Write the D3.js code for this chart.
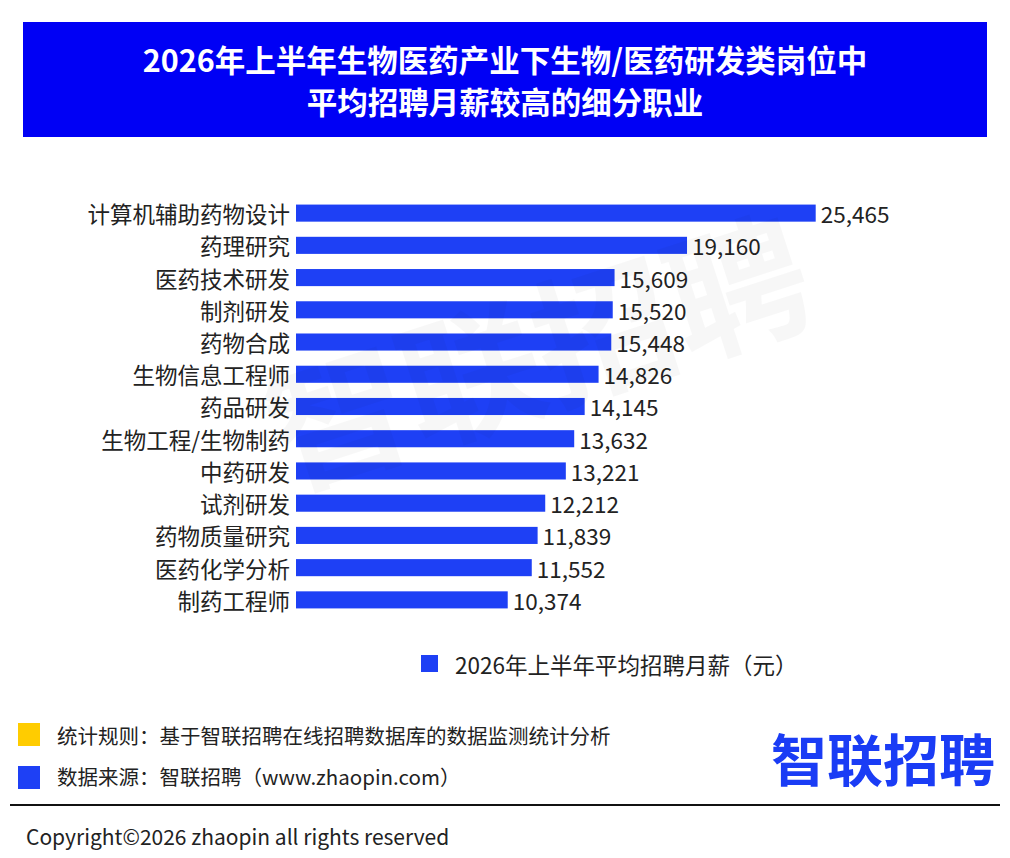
<!DOCTYPE html>
<html>
<head>
<meta charset="utf-8">
<script src="https://cdn.jsdelivr.net/npm/d3@7"></script>
<style>
  body { margin: 0; background: #fff; }
  svg { display: block; font-family: "Noto Sans CJK SC", "Noto Sans", sans-serif; }
</style>
</head>
<body>
<svg id="chart" width="1010" height="858"></svg>
<script>
const titleLines = ["2026年上半年生物医药产业下生物/医药研发类岗位中", "平均招聘月薪较高的细分职业"];
const categories = ["计算机辅助药物设计", "药理研究", "医药技术研发", "制剂研发", "药物合成", "生物信息工程师",
    "药品研发", "生物工程/生物制药", "中药研发", "试剂研发", "药物质量研究", "医药化学分析", "制药工程师"];
const salaries = [25465, 19160, 15609, 15520, 15448, 14826, 14145, 13632, 13221, 12212, 11839, 11552, 10374];
const legendLabel = "2026年上半年平均招聘月薪（元）";
const notes = ["统计规则：基于智联招聘在线招聘数据库的数据监测统计分析", "数据来源：智联招聘（www.zhaopin.com）"];
const copyright = "Copyright©2026 zhaopin all rights reserved";

const barColor = "#1e40f5";
const svg = d3.select("#chart");

// title banner
svg.append("rect")
    .attr("x", 23).attr("y", 22).attr("width", 964).attr("height", 115)
    .attr("fill", "#0000f5");
svg.selectAll(".title")
    .data(titleLines)
    .enter()
    .append("text")
    .attr("x", 505)
    .attr("y", (d, i) => 59 + i * 42)
    .attr("text-anchor", "middle")
    .attr("dominant-baseline", "central")
    .attr("fill", "#fff")
    .attr("font-size", 30.5)
    .attr("font-weight", "bold")
    .text(d => d);

const data = categories.map((c, i) => ({ name: c, value: salaries[i] }));

const scX = d3.scaleLinear()
    .domain([0, 25465])
    .range([296, 815.7]);

const scY = d3.scaleBand()
    .domain(categories)
    .range([197, 197 + 13 * 32.23])
    .paddingInner(0.47)
    .paddingOuter(0.235);

svg.selectAll(".bar")
    .data(data)
    .enter()
    .append("rect")
    .attr("class", "bar")
    .attr("x", scX(0))
    .attr("y", d => scY(d.name))
    .attr("width", d => scX(d.value) - scX(0))
    .attr("height", scY.bandwidth())
    .attr("fill", barColor);

// category labels
svg.selectAll(".cat")
    .data(data)
    .enter()
    .append("text")
    .attr("x", 290)
    .attr("y", d => scY(d.name) + scY.bandwidth() / 2)
    .attr("text-anchor", "end")
    .attr("dominant-baseline", "central")
    .attr("font-size", 22.5)
    .attr("fill", "#222")
    .text(d => d.name);

// value labels
svg.selectAll(".val")
    .data(data)
    .enter()
    .append("text")
    .attr("x", d => scX(d.value) + 5)
    .attr("y", d => scY(d.name) + scY.bandwidth() / 2)
    .attr("dominant-baseline", "central")
    .attr("font-size", 22.5)
    .attr("fill", "#222")
    .text(d => d3.format(",")(d.value));

// faint watermark
svg.append("text")
    .attr("transform", "translate(535,345) rotate(-18)")
    .attr("text-anchor", "middle")
    .attr("dominant-baseline", "central")
    .attr("font-size", 140)
    .attr("font-weight", "bold")
    .attr("fill", "#000")
    .attr("fill-opacity", 0.03)
    .text("智联招聘");

// legend
svg.append("rect")
    .attr("x", 421).attr("y", 655).attr("width", 17).attr("height", 17)
    .attr("fill", barColor);
svg.append("text")
    .attr("x", 455).attr("y", 664)
    .attr("dominant-baseline", "central")
    .attr("font-size", 22.5)
    .attr("fill", "#222")
    .text(legendLabel);

// notes
const noteColors = ["#ffcc00", "#1e40f5"];
svg.selectAll(".noteBox")
    .data(noteColors)
    .enter()
    .append("rect")
    .attr("x", 18)
    .attr("y", (d, i) => 723 + i * 43)
    .attr("width", 22).attr("height", 23)
    .attr("fill", d => d);
svg.selectAll(".note")
    .data(notes)
    .enter()
    .append("text")
    .attr("x", 57)
    .attr("y", (d, i) => 735 + i * 41)
    .attr("dominant-baseline", "central")
    .attr("font-size", 20.5)
    .attr("fill", "#222")
    .text(d => d);

// logo
svg.append("text")
    .attr("x", 883).attr("y", 756)
    .attr("text-anchor", "middle")
    .attr("dominant-baseline", "central")
    .attr("font-size", 56)
    .attr("font-weight", "bold")
    .attr("fill", "#1a3cf5")
    .text("智联招聘");

// footer
svg.append("line")
    .attr("x1", 10).attr("x2", 1000)
    .attr("y1", 805).attr("y2", 805)
    .attr("stroke", "#111").attr("stroke-width", 2);
svg.append("text")
    .attr("x", 26).attr("y", 836)
    .attr("dominant-baseline", "central")
    .attr("font-size", 21)
    .attr("fill", "#222")
    .text(copyright);
</script>
</body>
</html>
